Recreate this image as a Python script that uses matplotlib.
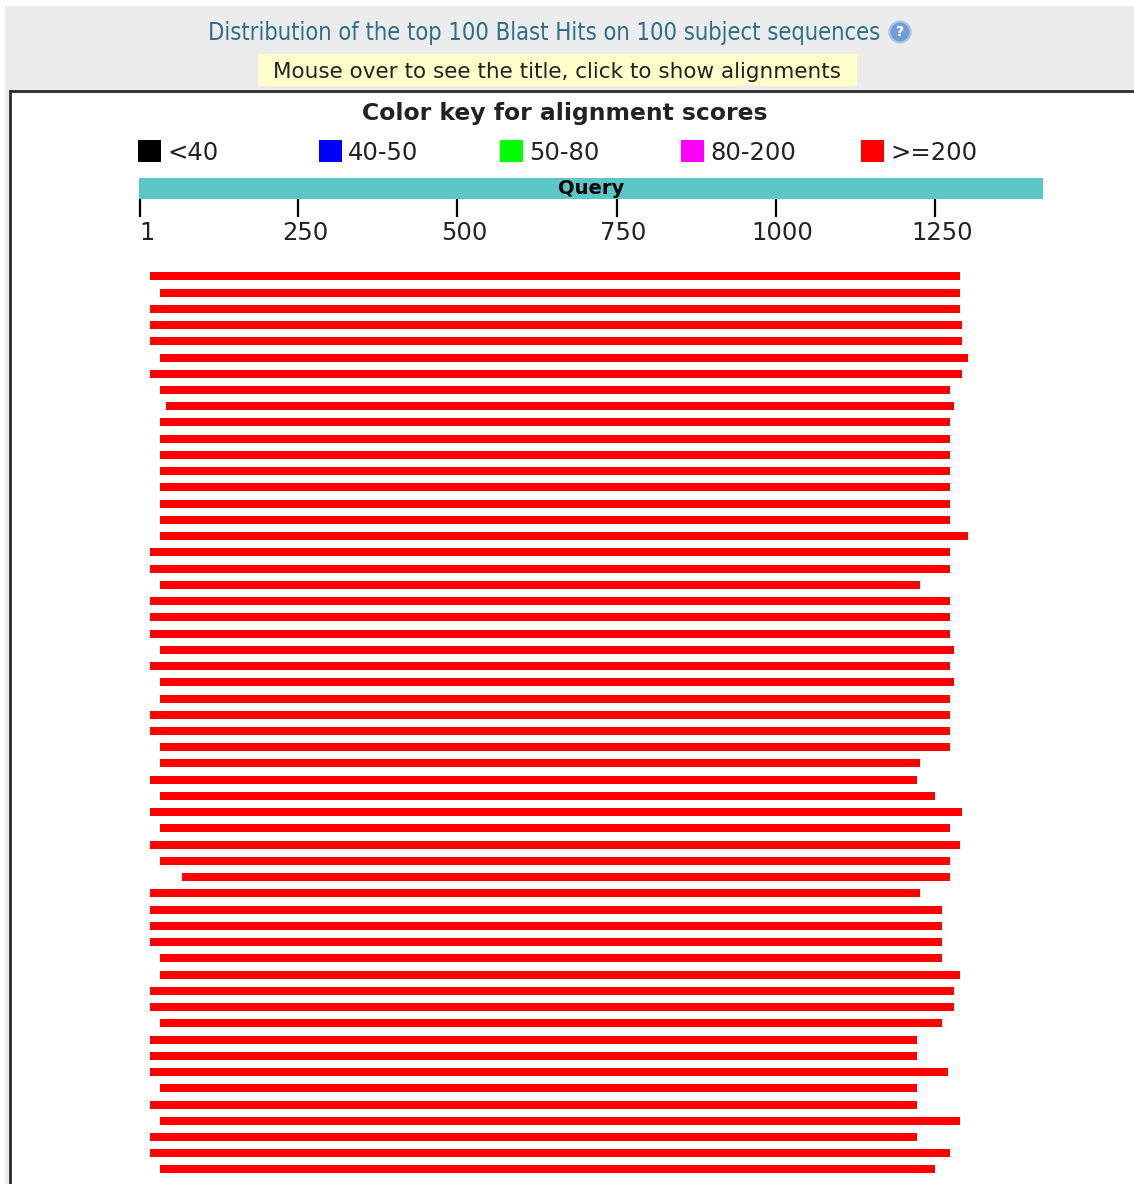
import matplotlib
matplotlib.use("Agg")
import matplotlib.pyplot as plt
from matplotlib.patches import Rectangle, Circle
from matplotlib import transforms

# ---------------- data ----------------
title_text = "Distribution of the top 100 Blast Hits on 100 subject sequences"
subtitle_text = "Mouse over to see the title, click to show alignments"
key_title = "Color key for alignment scores"
key_labels = ["<40", "40-50", "50-80", "80-200", ">=200"]
key_colors = ["#000000", "#0000ff", "#00ff00", "#ff00ff", "#ff0000"]
query_length = 1420
tick_values = [1, 250, 500, 750, 1000, 1250]
tick_labels = ["1", "250", "500", "750", "1000", "1250"]

hit_starts = [17, 33, 17, 17, 17, 33, 17, 33, 42, 33,
              33, 33, 33, 33, 33, 33, 33, 17, 17, 33,
              17, 17, 17, 33, 17, 33, 33, 17, 17, 33,
              33, 17, 33, 17, 33, 17, 33, 68, 17, 17,
              17, 17, 33, 33, 17, 17, 33, 17, 17, 17,
              33, 17, 33, 17, 17, 33]
hit_ends = [1289, 1289, 1289, 1292, 1292, 1302, 1292, 1273, 1280, 1273,
            1273, 1273, 1273, 1273, 1273, 1273, 1302, 1273, 1273, 1226,
            1273, 1273, 1273, 1280, 1273, 1280, 1273, 1273, 1273, 1273,
            1226, 1222, 1250, 1292, 1273, 1289, 1273, 1273, 1226, 1261,
            1261, 1261, 1261, 1289, 1280, 1280, 1261, 1222, 1222, 1270,
            1222, 1222, 1289, 1222, 1273, 1250]
hit_group = ">=200"

# ---------------- layout ----------------
W, H = 1134, 1184
fig = plt.figure(figsize=(W / 100, H / 100), dpi=100)
fig.patch.set_facecolor("white")

def fpos(x0, y0, x1, y1):
    return [x0 / W, 1 - y1 / H, (x1 - x0) / W, (y1 - y0) / H]

# overlay axes in pixel coordinates for page decoration
ax0 = fig.add_axes([0, 0, 1, 1])
ax0.set_xlim(0, W)
ax0.set_ylim(H, 0)
ax0.axis("off")

ax0.add_patch(Rectangle((5, 6), W - 5, H - 6, facecolor="#ececec", edgecolor="none"))
ax0.add_patch(Rectangle((10, 91), W, H, facecolor="white", edgecolor="#2b2b2b", linewidth=2.0))
ax0.add_patch(Rectangle((258, 54), 599, 32, facecolor="#ffffcc", edgecolor="none"))

ax0.text(544, 40, title_text, ha="center", va="baseline", fontsize=17,
         family="DejaVu Sans", fontstretch="condensed", color="#2e6d8c")
ax0.add_patch(Circle((900, 32), 10.5, facecolor="#6e9fd6", edgecolor="#a9c4e6", linewidth=1.5))
ax0.text(900, 32.5, "?", ha="center", va="center", fontsize=10, fontweight="bold", color="white")
ax0.text(557, 78, subtitle_text, ha="center", va="baseline", fontsize=15.5,
         family=["DejaVu Sans"], color="#222222")

ax0.text(564.5, 120, key_title, ha="center", va="baseline", fontsize=16.9,
         fontweight="bold", color="#222222")

key_x = [138, 319, 500, 681, 861]
for kx, lab, col in zip(key_x, key_labels, key_colors):
    ax0.add_patch(Rectangle((kx, 140), 23, 22, facecolor=col, edgecolor="none"))
    ax0.text(kx + 29, 160.5, lab, ha="left", va="baseline", fontsize=17.5, color="#222222")

# query bar + ruler axes
axq = fig.add_axes(fpos(138.96, 178, 1043.2, 199))
axq.set_xlim(0, query_length)
axq.set_ylim(0, 1)
axq.barh(0.5, query_length, height=1.0, left=0, color="#5bc7c7")
axq.text(query_length / 2, 0.48, "Query", ha="center", va="center",
         fontsize=14, fontweight="bold", color="black")
for s in axq.spines.values():
    s.set_visible(False)
axq.set_yticks([])
axq.set_xticks(tick_values)
axq.set_xticklabels([])
axq.tick_params(axis="x", direction="out", length=13, width=1.6, color="black", bottom=True)
axq.set_facecolor("none")

tr = transforms.blended_transform_factory(axq.transData, ax0.transData) + \
    transforms.ScaledTranslation(7 / 100, 0, fig.dpi_scale_trans)
for tv, tl in zip(tick_values, tick_labels):
    ax0.text(tv, 240.5, tl, transform=tr, ha="center", va="baseline",
             fontsize=17.5, color="#222222")

# hits axes
n = len(hit_starts)
row_px0, row_dy = 276.3, 16.24
top_px, bot_px = 260, H
axh = fig.add_axes(fpos(138.96, top_px, 1043.2, bot_px))
axh.set_xlim(0, query_length)
axh.set_ylim((bot_px - row_px0) / row_dy, (top_px - row_px0) / row_dy)
axh.axis("off")
hit_color = key_colors[key_labels.index(hit_group)]
rows = list(range(n))
widths = [e - s for s, e in zip(hit_starts, hit_ends)]
axh.barh(rows, widths, left=hit_starts, height=8 / row_dy, color=hit_color)

fig.savefig("out.png", dpi=100)
